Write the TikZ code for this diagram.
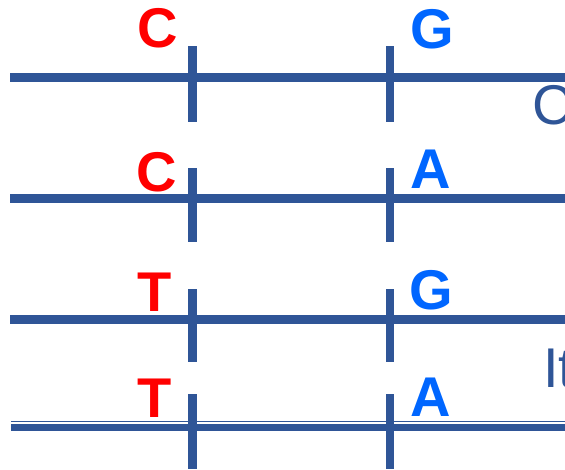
\documentclass[tikz,border=0pt]{standalone}
\usepackage{fontspec}
\setmainfont{Liberation Sans}
\usepackage{xcolor}
\usepackage{tikz}
\usetikzlibrary{positioning}
\definecolor{strandBlue}{HTML}{2F5597}
\definecolor{alleleRed}{HTML}{FF0000}
\definecolor{alleleBlue}{HTML}{0066FF}

\begin{document}
\begin{tikzpicture}[x=1pt, y=-1pt,
  strand/.style={line width=9pt, strandBlue},
  snp/.style={line width=8.5pt, strandBlue},
  base/.style={anchor=base, inner sep=0pt, font=\fontsize{56}{56}\selectfont\bfseries}]
  \useasboundingbox (0,0) rectangle (565,469);
  \clip (0,0) rectangle (565,469);

  % haplotype 1
  \draw[strand] (10,77) -- (565,77);
  \draw[snp] (192.5,46) -- (192.5,122);
  \draw[snp] (390,46) -- (390,122);
  \node[base, text=alleleRed] (a1) at (157.5,47) {C};
  \node[base, text=alleleBlue] (b1) at (432,48) {G};

  % haplotype 2
  \draw[strand] (10,198) -- (565,198);
  \draw[snp] (192.5,168) -- (192.5,242);
  \draw[snp] (390,168) -- (390,242);
  \node[base, text=alleleRed] (a2) at (157,191) {C};
  \node[base, text=alleleBlue] (b2) at (431,188) {A};

  % haplotype 3
  \draw[strand] (10,319) -- (565,319);
  \draw[snp] (192.5,289) -- (192.5,362);
  \draw[snp] (390,289) -- (390,362);
  \node[base, text=alleleRed] (a3) at (155,311) {T};
  \node[base, text=alleleBlue] (b3) at (431,309) {G};

  % haplotype 4
  \draw[strandBlue, line width=1.5pt] (11,421.5) -- (565,421.5);
  \draw[strand, line width=7pt] (11,427) -- (565,427);
  \draw[snp] (192.5,394) -- (192.5,469);
  \draw[snp] (390,394) -- (390,469);
  \node[base, text=alleleRed] (a4) at (155,417) {T};
  \node[base, text=alleleBlue] (b4) at (430.5,416) {A};

  % cut-off text at the right edge
  \node[anchor=base west, inner sep=0pt, font=\fontsize{56}{56}\selectfont, text=strandBlue] (edgeC) at (532,124) {C};
  \node[anchor=base west, inner sep=0pt, font=\fontsize{56}{56}\selectfont, text=strandBlue] (edgeIt) at (543,387) {It};
\end{tikzpicture}
\end{document}
